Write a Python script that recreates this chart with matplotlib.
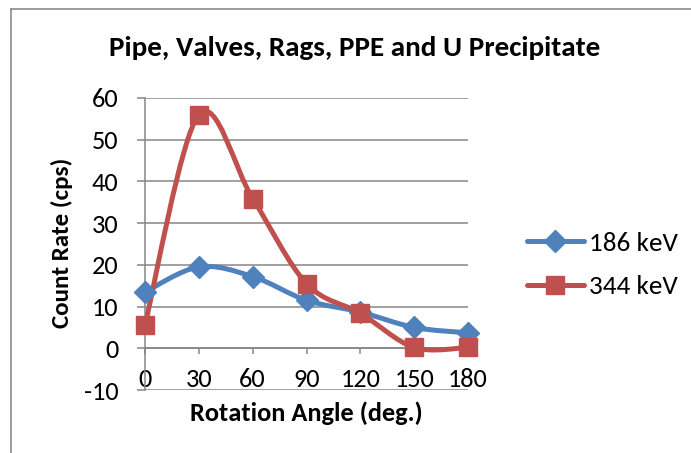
import numpy as np
import matplotlib.pyplot as plt
from matplotlib.path import Path
from matplotlib.patches import PathPatch
from matplotlib.lines import Line2D

plt.rcParams['font.family'] = ['Carlito', 'Lato', 'DejaVu Sans']
plt.rcParams['axes.unicode_minus'] = False

# data
angles = [0, 30, 60, 90, 120, 150, 180]
rate_186 = [13.5, 19.5, 17.2, 11.5, 8.7, 5.0, 3.7]
rate_344 = [5.6, 56.0, 35.9, 15.5, 8.4, 0.2, 0.2]
labels = ['186 keV', '344 keV']
yticks = [-10, 0, 10, 20, 30, 40, 50, 60]

blue = '#4F81BD'
red = '#C0504D'
grey = '#868686'

W, H = 691, 453


def smooth_path(x, y):
    # excel style smoothed line: catmull-rom turned into bezier segments
    p = np.column_stack([x, y]).astype(float)
    n = len(p)
    verts = [p[0]]
    codes = [Path.MOVETO]
    for i in range(n - 1):
        p0 = p[max(i - 1, 0)]
        p1 = p[i]
        p2 = p[i + 1]
        p3 = p[min(i + 2, n - 1)]
        c1 = p1 + (p2 - p0) / 6
        c2 = p2 - (p3 - p1) / 6
        verts += [c1, c2, p2]
        codes += [Path.CURVE4] * 3
    return Path(verts, codes)


fig = plt.figure(figsize=(W / 100, H / 100), dpi=100)
ax = fig.add_axes([145 / W, 1 - 390 / H, 323 / W, 292 / H])

ax.set_xlim(0, 180)
ax.set_ylim(-10, 60)
ax.set_xticks(angles)
ax.set_yticks(yticks)
ax.tick_params(labelsize=19, colors=grey, labelcolor='black')
ax.tick_params(axis='y', length=6, width=1.1, pad=13)
ax.tick_params(axis='x', length=4, width=1.1, pad=10)

for s in ['top', 'right']:
    ax.spines[s].set_visible(False)
ax.spines['bottom'].set_position(('data', 0))
ax.spines['bottom'].set_color(grey)
ax.spines['bottom'].set_linewidth(1.1)
ax.spines['left'].set_color(grey)
ax.spines['left'].set_linewidth(1.1)
ax.grid(axis='y', color=grey, linewidth=1.1)
ax.set_axisbelow(True)

series = [(rate_186, blue, 'D', 11), (rate_344, red, 's', 13)]
handles = []
for (vals, col, mk, ms), lab in zip(series, labels):
    ax.add_patch(PathPatch(smooth_path(angles, vals), facecolor='none',
                           edgecolor=col, lw=3.6, capstyle='round',
                           joinstyle='round', zorder=3))
    ax.plot(angles, vals, linestyle='none', marker=mk, markersize=ms,
            color=col, zorder=4, clip_on=False)
    handles.append(Line2D([], [], color=col, lw=3.6, marker=mk,
                          markersize=ms, solid_capstyle='round', label=lab))

fig.legend(handles=handles, loc='center left',
           bbox_to_anchor=(527 / W, 1 - 265 / H), frameon=False,
           fontsize=19.5, handlelength=2.1, handletextpad=0.2,
           labelspacing=0.75, borderpad=0, borderaxespad=0)

fig.text(355 / W, 1 - 48 / H, 'Pipe, Valves, Rags, PPE and U Precipitate',
         ha='center', va='center', fontsize=21, fontweight='bold')
fig.text(62 / W, 1 - 243 / H, 'Count Rate (cps)', ha='center', va='center',
         rotation=90, fontsize=18, fontweight='bold')
fig.text(306 / W, 1 - 413 / H, 'Rotation Angle (deg.)', ha='center',
         va='center', fontsize=19, fontweight='bold')

# chart area border (only left and top edges are in view)
fig.add_artist(Line2D([11 / W, 11 / W], [0, 1 - 9 / H], color='#8C8C8C',
                      lw=1.2, transform=fig.transFigure))
fig.add_artist(Line2D([11 / W, 1], [1 - 9 / H, 1 - 9 / H], color='#8C8C8C',
                      lw=1.2, transform=fig.transFigure))

fig.savefig('out.png', dpi=100)
